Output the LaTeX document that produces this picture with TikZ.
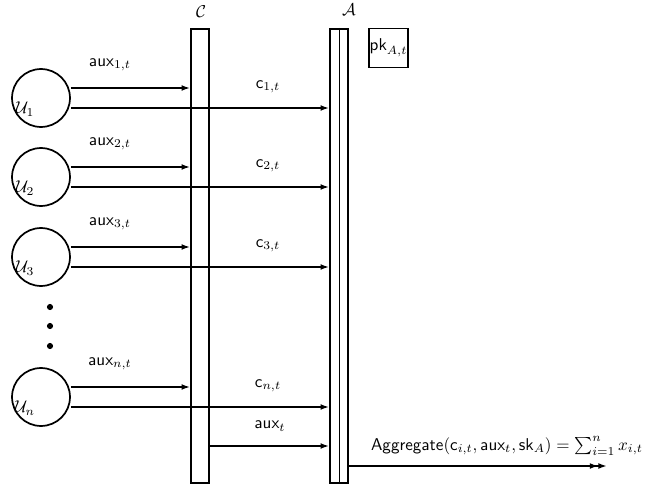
\documentclass[tikz,border=0pt]{standalone}
\usepackage{amsmath}
\usetikzlibrary{calc,arrows.meta}
\tikzset{
  user/.style={circle,draw,line width=1pt,minimum size=33.9pt,inner sep=0pt},
  party/.style={rectangle,draw,line width=1pt,minimum width=10.5pt,minimum height=266pt,inner sep=0pt},
  msg/.style={line width=1pt,-{Latex[length=5pt,width=3.4pt]}},
  dot/.style={circle,fill=black,inner sep=0pt,minimum size=3.6pt}
}
\begin{document}
\begin{tikzpicture}[x=0.585pt,y=-0.585pt]
    \useasboundingbox (0,0) rectangle (648,489);

    %––––– parties –––––
    \node[party] (C) at (200,256) {};
    \node (Cname) at (201,12) {$\mathcal{C}$};

    \node[party] (A) at (339,256) {};
    \draw (A.north) -- (A.south);
    \node (Aname) at (349,10) {$\mathcal{A}$};

    \node[draw,line width=1pt,inner sep=0pt,minimum size=22.8pt] (pk) at (388.5,48) {$\mathsf{pk}_{A,t}$};

    %––––– user 1 –––––
    \node[user] (u1) at (41,98) {};
    \node (u1name) at (25,109) {$\mathcal{U}_1$};
    \draw[msg] ($(u1.east)+(0,-10)$) -- ($(u1.east -| C.west)+(0,-10)$);
    \draw[msg] ($(u1.east)+(0,10)$) -- ($(u1.east -| A.west)+(0,10)$);
    \node (aux1) at (110,65) {$\mathsf{aux}_{1,t}$};
    \node (c1) at (268,87) {$\mathsf{c}_{1,t}$};

    %––––– user 2 –––––
    \node[user] (u2) at (41,177) {};
    \node (u2name) at (25,188) {$\mathcal{U}_2$};
    \draw[msg] ($(u2.east)+(0,-10)$) -- ($(u2.east -| C.west)+(0,-10)$);
    \draw[msg] ($(u2.east)+(0,10)$) -- ($(u2.east -| A.west)+(0,10)$);
    \node (aux2) at (110,144) {$\mathsf{aux}_{2,t}$};
    \node (c2) at (268,166) {$\mathsf{c}_{2,t}$};

    %––––– user 3 –––––
    \node[user] (u3) at (41,257) {};
    \node (u3name) at (25,268) {$\mathcal{U}_3$};
    \draw[msg] ($(u3.east)+(0,-10)$) -- ($(u3.east -| C.west)+(0,-10)$);
    \draw[msg] ($(u3.east)+(0,10)$) -- ($(u3.east -| A.west)+(0,10)$);
    \node (aux3) at (110,224) {$\mathsf{aux}_{3,t}$};
    \node (c3) at (268,246) {$\mathsf{c}_{3,t}$};

    %––––– dots –––––
    \node[dot] (dot1) at (50,307) {};
    \node[dot] (dot2) at (50,326) {};
    \node[dot] (dot3) at (50,346) {};

    %––––– user n –––––
    \node[user] (un) at (41,397) {};
    \node (unname) at (25,408) {$\mathcal{U}_n$};
    \draw[msg] ($(un.east)+(0,-10)$) -- ($(un.east -| C.west)+(0,-10)$);
    \draw[msg] ($(un.east)+(0,10)$) -- ($(un.east -| A.west)+(0,10)$);
    \node (auxn) at (110,364) {$\mathsf{aux}_{n,t}$};
    \node (cn) at (268,386) {$\mathsf{c}_{n,t}$};

    %––––– aggregation –––––
    \coordinate (auxrow) at (0,446);
    \draw[msg] (C.east |- auxrow) -- (A.west |- auxrow);
    \node (auxt) at (270,426) {$\mathsf{aux}_{t}$};

    \coordinate (out) at (607,466);
    \draw[line width=1pt,-{Latex[length=5pt,width=3.4pt]Latex[length=5pt,width=3.4pt]}] (A.east |- out) -- (out);
    \node (agg) at (507,446) {$\mathsf{Aggregate}(\mathsf{c}_{i,t},\mathsf{aux}_{t},\mathsf{sk}_{A})=\sum_{i=1}^{n}x_{i,t}$};
  \end{tikzpicture}
\end{document}
